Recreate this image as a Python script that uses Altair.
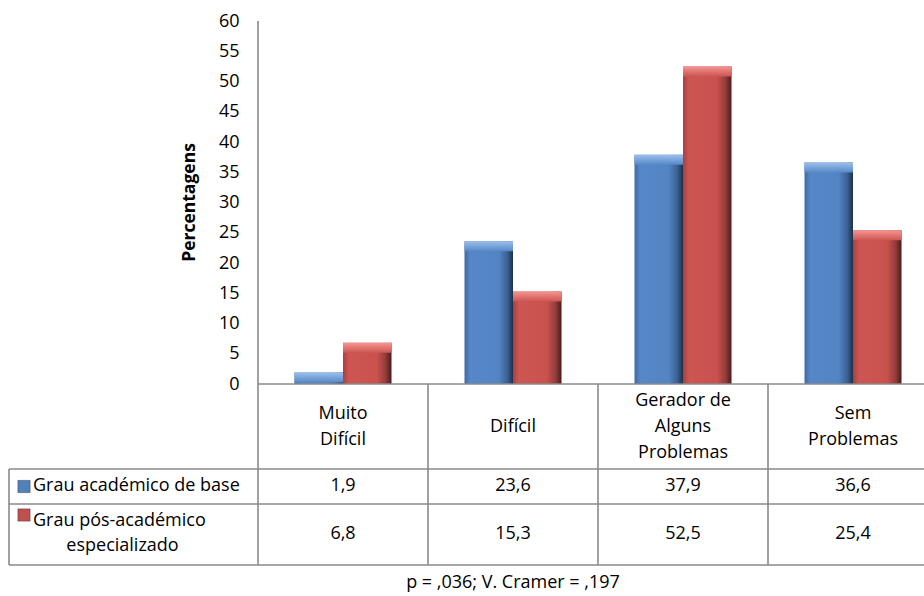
import altair as alt
import pandas as pd

# ---------------- data ----------------
cats = ["Muito Difícil", "Difícil", "Gerador de Alguns Problemas", "Sem Problemas"]
header_labels = ["Muito\nDifícil", "Difícil", "Gerador de\nAlguns\nProblemas", "Sem\nProblemas"]
series = ["Grau académico de base", "Grau pós-académico especializado"]
base_vals = [1.9, 23.6, 37.9, 36.6]
pos_vals = [6.8, 15.3, 52.5, 25.4]
y_ticks = list(range(0, 61, 5))
y_title = "Percentagens"
footer = "p = ,036; V. Cramer = ,197"

rows = []
for s, vals in zip(series, [base_vals, pos_vals]):
    for c, v in zip(cats, vals):
        rows.append({"cat": c, "series": s, "value": v,
                     "label": f"{v:.1f}".replace(".", ",")})
df = pd.DataFrame(rows)
hdr = pd.DataFrame({"cat": cats, "header": header_labels})
hdr["n"] = [h.count("\n") + 1 for h in header_labels]
one = pd.DataFrame({"k": [0]})

FONT = "Open Sans"
FS = 18
GRID = "#8a8a8a"
W, H = 666, 363
LH = 26

x_enc = alt.X("cat:N",
              scale=alt.Scale(domain=cats, range=[0, 680], paddingInner=0, paddingOuter=0),
              axis=None)
xo_enc = alt.XOffset("series:N",
                     scale=alt.Scale(domain=series, paddingInner=0, paddingOuter=0.7526))
y_axis = alt.Axis(values=y_ticks, tickCount=13, domain=False, ticks=False, grid=False,
                  title=None, labelFont=FONT, labelFontSize=FS,
                  labelColor="black", labelPadding=19, labelOverlap=False)
y_scale = alt.Scale(domain=[0, 60], nice=False)
y_enc = alt.Y("value:Q", scale=y_scale, axis=y_axis)

def hgrad(stops):
    return alt.LinearGradient(gradient="linear", x1=0, y1=0, x2=1, y2=0,
                              stops=[alt.GradientStop(color=c, offset=o) for o, c in stops])

def vgrad(stops):
    return alt.LinearGradient(gradient="linear", x1=0, y1=0, x2=0, y2=1,
                              stops=[alt.GradientStop(color=c, offset=o) for o, c in stops])

blue_body = hgrad([(0, "#3e6aa5"), (0.12, "#5688c7"), (0.7, "#5385c4"), (0.88, "#3c6293"), (1, "#1d3049")])
red_body = hgrad([(0, "#a8403e"), (0.12, "#cd5552"), (0.7, "#c9524f"), (0.88, "#923c3a"), (1, "#4a1a19")])
blue_top = vgrad([(0, "#9cc0ec"), (1, "#5688c7")])
red_top = vgrad([(0, "#f59592"), (1, "#cd5552")])

base = alt.Chart(df)
layers = []
for s, body, top in [(series[0], blue_body, blue_top), (series[1], red_body, red_top)]:
    sub = base.transform_filter(alt.datum.series == s)
    layers.append(sub.mark_bar(color=body).encode(x=x_enc, xOffset=xo_enc, y=y_enc))
    layers.append(sub.mark_bar(color=top, y2Offset=10).encode(
        x=x_enc, xOffset=xo_enc, y=y_enc, y2=alt.Y2("value")))

# ---------- table grid ----------
def rule(x, x2, y, y2):
    return alt.Chart(one).mark_rule(color=GRID, strokeWidth=1.6).encode(
        x=alt.value(x), x2=alt.value(x2), y=alt.value(y), y2=alt.value(y2))

layers += [
    rule(0, 0, 0, 544),          # y axis line extended through table
    rule(0, W, 363, 363),        # baseline / table top
    rule(-249, W, 448, 448),
    rule(-249, W, 483, 483),
    rule(-249, W, 544, 544),
    rule(-249, -249, 448, 544),
]
layers.append(
    alt.Chart(hdr).transform_filter(alt.datum.cat != cats[0])
    .mark_rule(color=GRID, strokeWidth=1.6)
    .encode(x=alt.X("cat:N", bandPosition=0), y=alt.value(363), y2=alt.value(544))
)

# ---------- table text ----------
for n in sorted(set(hdr["n"])):
    layers.append(
        alt.Chart(hdr).transform_filter(alt.datum.n == n)
        .mark_text(font=FONT, fontSize=FS, lineBreak="\n", lineHeight=LH,
                   align="center", baseline="middle", color="black")
        .encode(x="cat:N", y=alt.value(406 - (n - 1) * LH / 2), text="header:N")
    )
for s, yv in [(series[0], 465), (series[1], 513)]:
    layers.append(
        base.transform_filter(alt.datum.series == s)
        .mark_text(font=FONT, fontSize=FS, align="center", baseline="middle", color="black")
        .encode(x="cat:N", y=alt.value(yv), text="label:N")
    )

# legend keys in table
for col, yv in [("#4f81bd", 465.5), ("#c0504d", 494)]:
    layers.append(alt.Chart(one).mark_square(size=150, color=col, opacity=1,
                                             stroke="#2a2a2a", strokeWidth=0.4)
                  .encode(x=alt.value(-234), y=alt.value(yv)))

def txt(t, x, y, align="left", size=FS, **kw):
    return alt.Chart(pd.DataFrame({"t": [t]})).mark_text(
        font=FONT, fontSize=size, align=align, baseline="middle", color="black", **kw
    ).encode(x=alt.value(x), y=alt.value(y), text="t:N")

s2a, s2b = "Grau pós-académico", "especializado"
layers += [
    txt(series[0], -225, 465),
    txt(s2a, -225, 500),
    txt(s2b, -135.5, 525, align="center"),
    txt(y_title, -68.5, 181.5, align="center", size=17.5, angle=270, fontWeight="bold"),
    txt(footer, 255, 562, align="center", size=18),
]

chart = alt.layer(*layers).properties(
    width=W, height=H,
    padding={"left": 258, "top": 21, "right": 0, "bottom": 212},
    autosize=alt.AutoSizeParams(type="none"),
    background="white",
).configure_view(stroke=None)

chart.save("out.html", embed_options={"renderer": "svg", "actions": False})
